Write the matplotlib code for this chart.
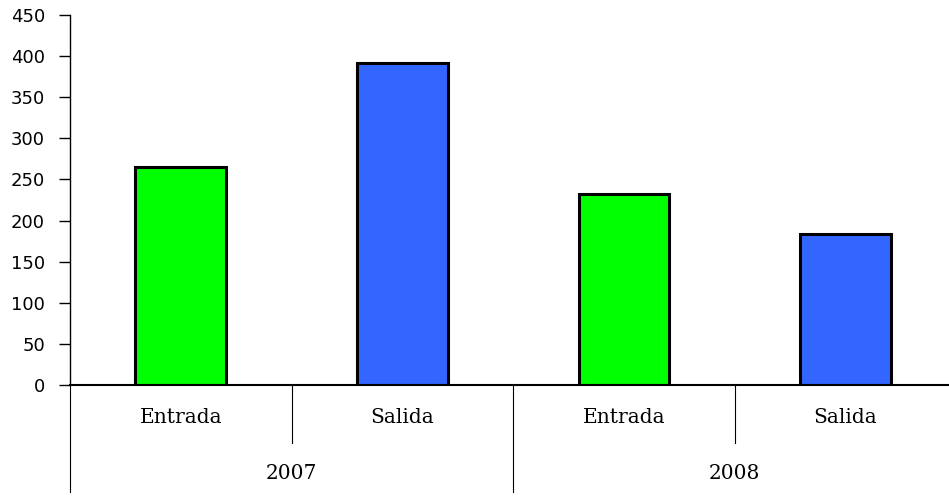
import matplotlib.pyplot as plt

# Chart data
years = ["2007", "2008"]
categories = ["Entrada", "Salida", "Entrada", "Salida"]
values = [265, 392, 232, 184]
colors = ["#00FF00", "#3366FF", "#00FF00", "#3366FF"]
yticks = [0, 50, 100, 150, 200, 250, 300, 350, 400, 450]

fig = plt.figure(figsize=(9.49, 4.97), dpi=100)
ax = fig.add_axes([0.0738, 0.2254, 0.934, 0.7445])

x = list(range(len(values)))
ax.bar(x, values, width=0.41, color=colors, edgecolor="black", linewidth=2.2, zorder=3)

ax.set_xlim(-0.5, len(values) - 0.5)
ax.set_ylim(0, 450)
ax.set_yticks(yticks)
ax.set_yticklabels([str(v) for v in yticks], fontsize=13, family="DejaVu Sans")
ax.tick_params(axis="y", direction="out", length=8, width=1, pad=10)
ax.set_xticks([])

for side in ["top", "right", "bottom"]:
    ax.spines[side].set_visible(False)
ax.spines["left"].set_linewidth(1)
ax.spines["left"].set_bounds(0, 450)
ax.axhline(0, color="black", linewidth=1.5, zorder=4, clip_on=False)

# multi-level category axis below the plot
trans = ax.get_xaxis_transform()
for i in range(len(values) + 1):
    xpos = i - 0.5
    if i % 2 == 0:
        ybot = -0.29
    else:
        ybot = -0.157
    ax.plot([xpos, xpos], [0, ybot], color="black", linewidth=0.8,
            transform=trans, clip_on=False)

for i, name in enumerate(categories):
    ax.text(i, -0.089, name, transform=trans, ha="center", va="center",
            fontsize=14.5, family="DejaVu Serif")

for j, yr in enumerate(years):
    ax.text(2 * j + 0.5, -0.24, yr, transform=trans, ha="center", va="center",
            fontsize=14.5, family="DejaVu Serif")

fig.savefig("out.png", dpi=100)
